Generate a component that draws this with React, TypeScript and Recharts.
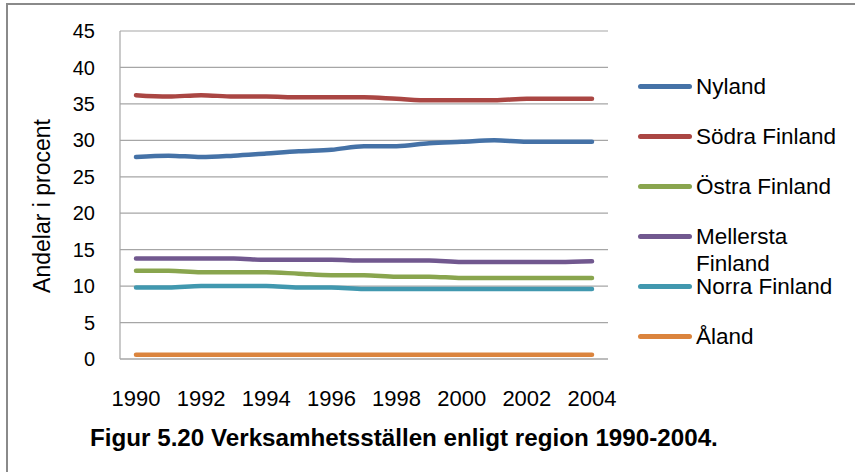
import React from "react";
import { LineChart, Line, XAxis, YAxis, CartesianGrid } from "recharts";

const years = ["1990","1991","1992","1993","1994","1995","1996","1997","1998","1999","2000","2001","2002","2003","2004"];
const nyland = [27.7, 27.9, 27.7, 27.9, 28.2, 28.5, 28.7, 29.2, 29.2, 29.6, 29.8, 30.0, 29.8, 29.8, 29.8];
const sodraFinland = [36.2, 36.0, 36.2, 36.0, 36.0, 35.9, 35.9, 35.9, 35.7, 35.5, 35.5, 35.5, 35.7, 35.7, 35.7];
const ostraFinland = [12.1, 12.1, 11.9, 11.9, 11.9, 11.7, 11.5, 11.5, 11.3, 11.3, 11.1, 11.1, 11.1, 11.1, 11.1];
const mellerstaFinland = [13.8, 13.8, 13.8, 13.8, 13.6, 13.6, 13.6, 13.5, 13.5, 13.5, 13.3, 13.3, 13.3, 13.3, 13.4];
const norraFinland = [9.8, 9.8, 10.0, 10.0, 10.0, 9.8, 9.8, 9.6, 9.6, 9.6, 9.6, 9.6, 9.6, 9.6, 9.6];
const aland = [0.6, 0.6, 0.6, 0.6, 0.6, 0.6, 0.6, 0.6, 0.6, 0.6, 0.6, 0.6, 0.6, 0.6, 0.6];
const yTicks = [0, 5, 10, 15, 20, 25, 30, 35, 40, 45];

const seriesNames = ["Nyland", "Södra Finland", "Östra Finland", "Mellersta Finland", "Norra Finland", "Åland"];
const seriesValues = [nyland, sodraFinland, ostraFinland, mellerstaFinland, norraFinland, aland];
const seriesColors = ["#4572A7", "#AA4643", "#89A54E", "#71588F", "#4198AF", "#DB843D"];

const yLabel = "Andelar i procent";
const title = "Figur 5.20 Verksamhetsställen enligt region 1990-2004.";

const data = years.map((y, i) => {
  const row: Record<string, any> = { year: y };
  seriesNames.forEach((n, s) => { row[n] = seriesValues[s][i]; });
  return row;
});

const FONT = '"Liberation Sans", Arial, sans-serif';

const YLabel = (props: any) => {
  const vb = props.viewBox || {};
  const cx = 42;
  const cy = (vb.y ?? 31) + (vb.height ?? 328) / 2 + 11;
  return (
    <text x={cx} y={cy} transform={`rotate(-90 ${cx} ${cy})`} textAnchor="middle" dominantBaseline="central"
      fontFamily={FONT} fontSize={23} fill="#000">{yLabel}</text>
  );
};

export default function App() {
  return (
    <div style={{ position: "absolute", left: 0, top: 0, width: 855, height: 472, background: "#fff", overflow: "hidden", fontFamily: FONT }}>
      <div style={{ position: "absolute", left: 6, top: 3, width: 900, height: 520, borderLeft: "2px solid #8a8a8a", borderTop: "2px solid #8a8a8a" }} />
      <div style={{ position: "absolute", left: 0, top: 0 }}>
        <LineChart width={855} height={472} data={data} margin={{ top: 31, right: 247, bottom: 53, left: 20 }}>
          <CartesianGrid vertical={false} stroke="#a6a6a6" strokeWidth={1.2} />
          <XAxis dataKey="year" interval={1} padding={{ left: 16, right: 16 }} height={60}
            axisLine={{ stroke: "#a6a6a6", strokeWidth: 1.2 }} tickLine={false} tickSize={0} tickMargin={31}
            tick={{ fontFamily: FONT, fontSize: 22, fill: "#000" }} />
          <YAxis width={100} domain={[0, 45]} ticks={yTicks} interval={0}
            axisLine={{ stroke: "#a6a6a6", strokeWidth: 1.2 }} tickLine={false} tickSize={0} tickMargin={25}
            tick={{ fontFamily: FONT, fontSize: 20, fill: "#000" }}
            label={<YLabel />} />
          {seriesNames.map((n, i) => (
            <Line key={n} type="monotone" dataKey={n} stroke={seriesColors[i]} strokeWidth={4.5}
              dot={false} isAnimationActive={false} strokeLinecap="round" />
          ))}
        </LineChart>
      </div>
      <div style={{ position: "absolute", left: 638, top: 73, width: 210, fontFamily: FONT, fontSize: 22.5, color: "#000" }}>
        {seriesNames.map((n, i) => (
          <div key={n} style={{ height: 50, display: "flex", alignItems: "flex-start" }}>
            <div style={{ width: 54, height: 5, borderRadius: 3, background: seriesColors[i], marginTop: 11, marginRight: 4, flexShrink: 0 }} />
            <div style={{ width: 148, lineHeight: "27px" }}>{n}</div>
          </div>
        ))}
      </div>
      <div style={{ position: "absolute", left: 90, top: 424, fontFamily: FONT, fontSize: 24.2, fontWeight: "bold", whiteSpace: "nowrap", color: "#000" }}>
        {title}
      </div>
    </div>
  );
}
